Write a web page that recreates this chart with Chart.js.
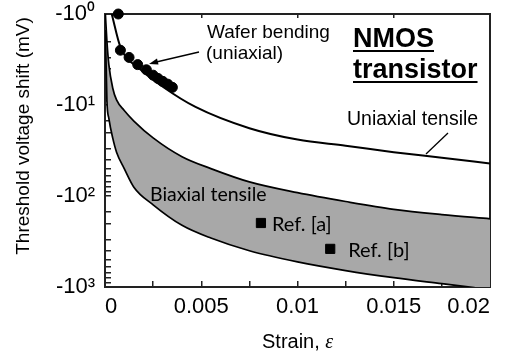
<!DOCTYPE html>
<html lang="en">
<head>
  <meta charset="UTF-8">
  <title>NMOS threshold voltage shift vs strain</title>
  <script src="https://cdn.jsdelivr.net/npm/chart.js"></script>
  <style>
    body { margin: 0; background: #fff; }
  </style>
</head>
<body>
  <canvas id="shiftChart" width="506" height="356"></canvas>

  <script>
    // shift magnitudes in mV, the axis shows them as negative values
    const waferStrain = [0.00069, 0.0008, 0.00125, 0.0017, 0.00215, 0.0025, 0.00275, 0.003, 0.00326, 0.0035];
    const waferShift = [1.0, 2.5, 3.0, 3.6, 4.1, 4.7, 5.1, 5.5, 5.9, 6.4];

    const uniStrain = [0.00035, 0.0008, 0.0018, 0.003, 0.0047, 0.0075, 0.01, 0.0125, 0.015, 0.0175, 0.02];
    const uniShift = [1, 2.3, 4, 6.3, 10.5, 18, 24, 28, 33, 38, 44];

    const biaxStrain = [0.00002, 0.0001, 0.0002, 0.0004, 0.0006, 0.001, 0.0015, 0.0025, 0.004, 0.0055, 0.0075, 0.01, 0.0125, 0.015, 0.0175, 0.02];
    const biaxUpper = [1, 2, 3.6, 6.5, 8.8, 11.5, 15, 23, 37, 50, 70, 92, 115, 140, 160, 178];
    const biaxLower = [1.5, 9, 14, 23, 33, 50, 80, 125, 210, 290, 400, 530, 660, 790, 920, 1070];

    const refStrain = [0.0081, 0.0117];
    const refShift = [198, 381];
    const refLabels = ["Ref. [a]", "Ref. [b]"];

    const xTicks = [0, 0.005, 0.01, 0.015, 0.02];
    const xTickLabels = ["0", "0.005", "0.01", "0.015", "0.02"];
    const yTicks = [1, 10, 100, 1000];
    const yTickLabels = ["-10\u2070", "-10\u00b9", "-10\u00b2", "-10\u00b3"];

    const pts = (xs, ys) => xs.map((x, i) => ({ x: x, y: ys[i] }));
    const frame = "#222";
    const sans = "'Liberation Sans', Arial, sans-serif";

    // titles and annotations drawn on top
    const notes = {
      id: "notes",
      afterDraw(chart) {
        const ctx = chart.ctx;
        const x = chart.scales.x, y = chart.scales.y;
        ctx.save();
        ctx.fillStyle = "#000";
        ctx.strokeStyle = "#000";

        // y title
        ctx.save();
        ctx.translate(24, 136);
        ctx.rotate(-Math.PI / 2);
        ctx.font = "19px " + sans;
        ctx.textAlign = "center";
        ctx.textBaseline = "middle";
        ctx.fillText("Threshold voltage shift (mV)", 0, 0);
        ctx.restore();

        // x title
        ctx.textBaseline = "alphabetic";
        ctx.textAlign = "left";
        ctx.font = "20px " + sans;
        const s = "Strain, ";
        ctx.fillText(s, 262, 348);
        const sw = ctx.measureText(s).width;
        ctx.font = "italic 20px 'Liberation Serif', serif";
        ctx.fillText("\u03b5", 262 + sw, 348);

        // wafer bending label + arrow
        ctx.font = "19px " + sans;
        ctx.fillText("Wafer bending", 207, 38);
        ctx.fillText("(uniaxial)", 206, 59);
        ctx.lineWidth = 1.3;
        ctx.beginPath();
        ctx.moveTo(199, 52);
        ctx.lineTo(152, 63);
        ctx.stroke();
        ctx.beginPath();
        ctx.moveTo(149, 64);
        ctx.lineTo(157, 58.5);
        ctx.lineTo(158.5, 64.5);
        ctx.closePath();
        ctx.fill();

        // NMOS transistor
        ctx.font = "bold 27px " + sans;
        ctx.fillText("NMOS", 353, 47);
        ctx.fillText("transistor", 353, 78);
        ctx.lineWidth = 2;
        ctx.beginPath();
        ctx.moveTo(353, 51); ctx.lineTo(353 + ctx.measureText("NMOS").width, 51);
        ctx.moveTo(353, 82); ctx.lineTo(353 + ctx.measureText("transistor").width, 82);
        ctx.stroke();

        // uniaxial tensile label + leader
        ctx.font = "19.5px " + sans;
        ctx.fillText("Uniaxial tensile", 347, 125);
        ctx.lineWidth = 1.3;
        ctx.beginPath();
        ctx.moveTo(448, 133);
        ctx.lineTo(426, 154);
        ctx.stroke();

        // biaxial band + reference labels
        ctx.font = "19.5px Lato, sans-serif";
        ctx.fillText("Biaxial tensile", 150, 201);
        ctx.font = "20px Lato, sans-serif";
        const gap = [11, 18];
        refLabels.forEach((t, i) => {
          const px = x.getPixelForValue(refStrain[i]);
          const py = y.getPixelForValue(refShift[i]);
          ctx.fillText(t, px + gap[i], py + 8);
        });
        ctx.restore();
      }
    };

    new Chart(document.getElementById("shiftChart"), {
      type: "scatter",
      data: {
        // drawn last-to-first, so the marks come first in the list
        datasets: [
          {
            label: "Wafer bending (uniaxial)",
            data: pts(waferStrain, waferShift),
            backgroundColor: "#000",
            borderColor: "#000",
            pointRadius: 5,
            clip: false
          },
          {
            label: "Refs",
            data: pts(refStrain, refShift),
            pointStyle: "rect",
            pointRadius: 6.5,
            borderWidth: 1,
            backgroundColor: "#000",
            borderColor: "#000"
          },
          {
            label: "Uniaxial tensile",
            data: pts(uniStrain, uniShift),
            showLine: true,
            borderColor: "#000",
            borderWidth: 2,
            pointRadius: 0,
            cubicInterpolationMode: "monotone"
          },
          {
            label: "Biaxial upper",
            data: pts(biaxStrain, biaxUpper),
            showLine: true,
            borderColor: "#000",
            borderWidth: 1.7,
            backgroundColor: "#a8a8a8",
            pointRadius: 0,
            cubicInterpolationMode: "monotone",
            fill: "+1"
          },
          {
            label: "Biaxial lower",
            data: pts(biaxStrain, biaxLower),
            showLine: true,
            borderColor: "#000",
            borderWidth: 1.7,
            pointRadius: 0,
            cubicInterpolationMode: "monotone"
          }
        ]
      },
      options: {
        responsive: false,
        animation: false,
        layout: { padding: { top: 14, right: 16, left: 0, bottom: 0 } },
        plugins: {
          legend: { display: false },
          tooltip: { enabled: false },
          filler: { drawTime: "beforeDatasetsDraw" }
        },
        scales: {
          x: {
            type: "linear",
            min: 0,
            max: 0.02,
            // fixed box, labels may hang past the plot edges
            afterFit: s => { s.height = 69; s.paddingLeft = 0; s.paddingRight = 0; },
            border: { color: frame, width: 2 },
            grid: { drawOnChartArea: false, tickLength: -6, color: frame, lineWidth: 1.5 },
            ticks: {
              stepSize: 0.0025,
              autoSkip: false,
              maxRotation: 0,
              align: "inner",
              padding: 13,
              color: "#000",
              font: { family: sans, size: 22 },
              callback: v => {
                const i = xTicks.findIndex(t => Math.abs(t - v) < 1e-9);
                return i >= 0 ? xTickLabels[i] : "";
              }
            }
          },
          xTop: {
            type: "linear",
            position: "top",
            min: 0,
            max: 0.02,
            afterFit: s => { s.height = 0; },
            border: { color: frame, width: 2 },
            grid: { drawOnChartArea: false, tickLength: -4, color: frame, lineWidth: 1.5 },
            ticks: { stepSize: 0.005, display: false }
          },
          y: {
            type: "logarithmic",
            reverse: true,
            min: 1,
            max: 1000,
            afterFit: s => { s.width = 105; s.paddingTop = 0; s.paddingBottom = 0; },
            border: { color: frame, width: 2 },
            grid: { drawOnChartArea: false, tickLength: -6, color: frame, lineWidth: 1.5 },
            ticks: {
              autoSkip: false,
              padding: 16,
              color: "#000",
              font: { family: sans, size: 22 },
              callback: v => {
                const i = yTicks.findIndex(t => Math.abs(t - v) < 1e-6 * t);
                return i >= 0 ? yTickLabels[i] : "";
              }
            }
          },
          yRight: {
            type: "linear",
            position: "right",
            afterFit: s => { s.width = 0; },
            border: { color: frame, width: 2 },
            grid: { display: false },
            ticks: { display: false }
          }
        }
      },
      plugins: [notes]
    });
  </script>
</body>
</html>
